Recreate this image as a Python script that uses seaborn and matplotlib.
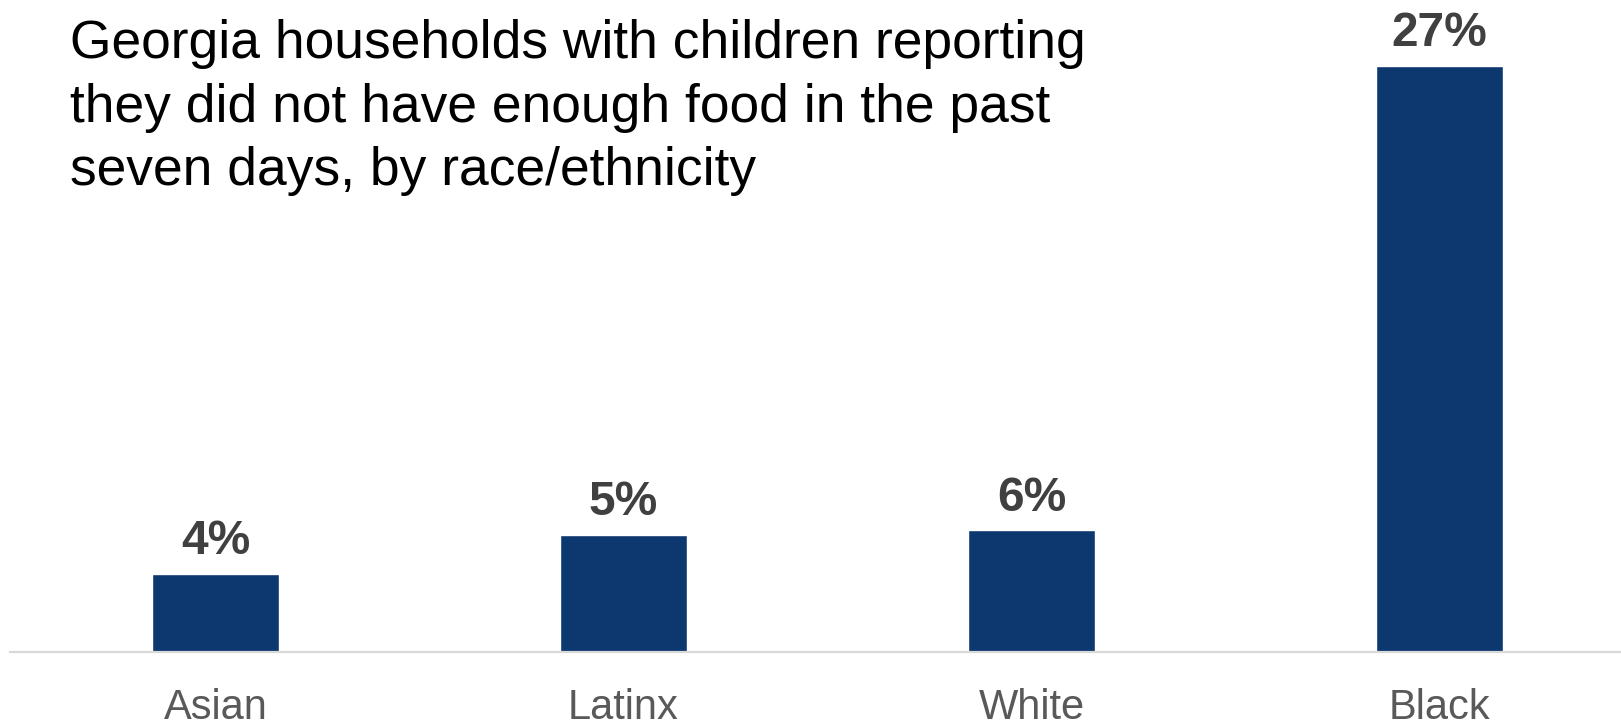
import matplotlib
matplotlib.use("Agg")
import matplotlib.pyplot as plt
import seaborn as sns
import pandas as pd

# Share of households with children reporting insufficient food, by group
groups = ["Asian", "Latinx", "White", "Black"]
shares = [3.6, 5.4, 5.6, 27.0]

title_text = ("Georgia households with children reporting\n"
              "they did not have enough food in the past\n"
              "seven days, by race/ethnicity")

df = pd.DataFrame({"group": groups, "share": shares})

sns.set_theme(style="white")
plt.rcParams["font.family"] = ["Liberation Sans", "DejaVu Sans"]

W, H, DPI = 1621, 721, 100
fig = plt.figure(figsize=(W / DPI, H / DPI), dpi=DPI)
ax_left, ax_bottom_px = 10, 652
ax = fig.add_axes([ax_left / W, (H - ax_bottom_px) / H, 1 - ax_left / W, ax_bottom_px / H])

sns.barplot(data=df, x="group", y="share", color="#0D386F", saturation=1,
            width=0.31, ax=ax)

ax.set_xlim(-0.504, 3.445)
ax.set_ylim(0, 30.05)
ax.set_xlabel("")
ax.set_ylabel("")
ax.set_yticks([])
for side in ["top", "right", "left"]:
    ax.spines[side].set_visible(False)
ax.spines["bottom"].set_color("#D9D9D9")
ax.spines["bottom"].set_linewidth(1.6)
ax.tick_params(axis="x", length=0, pad=26, labelsize=30, labelcolor="#595959")

for container in ax.containers:
    ax.bar_label(container, labels=[f"{v:.0f}%" for v in shares],
                 padding=7, fontsize=34.5, fontweight="bold", color="#404040")

fig.text(70 / W, 1 - 19 / H, title_text, ha="left", va="top",
         fontsize=38.4, color="black", linespacing=1.35)

fig.savefig("out.png", dpi=DPI, facecolor="white")
